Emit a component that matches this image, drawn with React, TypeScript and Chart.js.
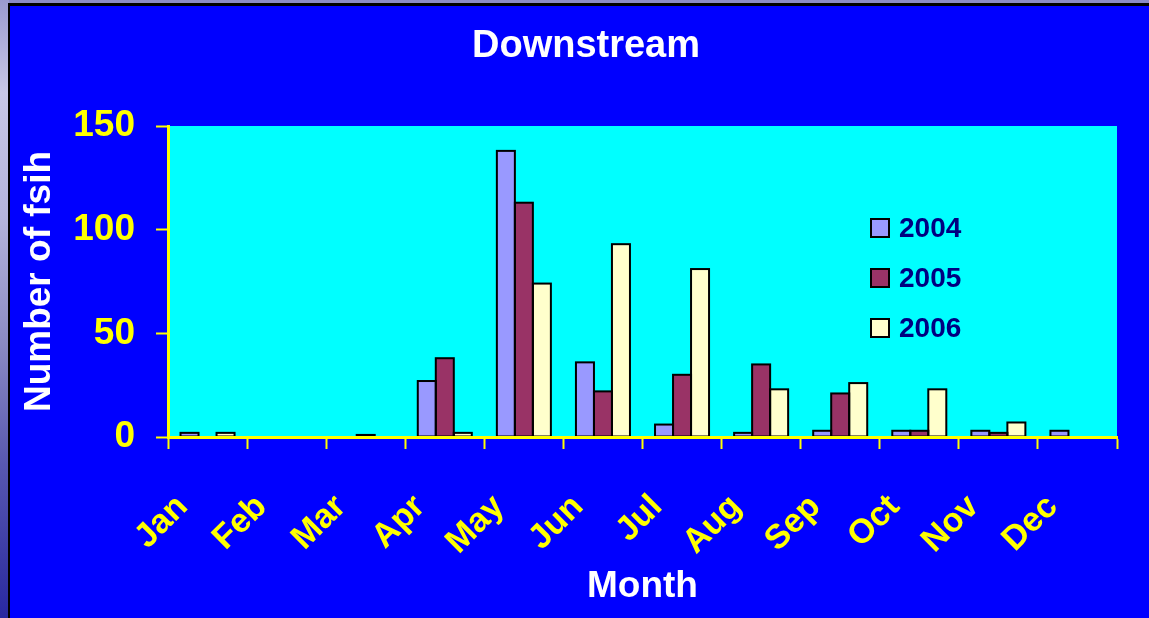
import { useEffect, useRef } from 'react';
import { Chart, registerables } from 'chart.js';

Chart.register(...registerables);

const TITLE = 'Downstream';
const X_TITLE = 'Month';
const Y_TITLE = 'Number of fsih';
const MONTHS = ['Jan', 'Feb', 'Mar', 'Apr', 'May', 'Jun', 'Jul', 'Aug', 'Sep', 'Oct', 'Nov', 'Dec'];
const SERIES_NAMES = ['2004', '2005', '2006'];
const VALUES_2004 = [2, 0, 0, 27, 138, 36, 6, 2, 3, 3, 3, 3];
const VALUES_2005 = [0, 0, 1, 38, 113, 22, 30, 35, 21, 3, 2, 0];
const VALUES_2006 = [2, 0, 0, 2, 74, 93, 81, 23, 26, 23, 7, 0];
const Y_MIN = 0;
const Y_MAX = 150;
const Y_STEP = 50;

const COLORS = ['#9999FF', '#993366', '#FFFFCC'];
const FONT = "'Liberation Sans', Arial, Helvetica, sans-serif";
const YELLOW = '#FFFF00';

const slidePlugin = {
  id: 'slideDecor',
  beforeDraw(chart: any) {
    const { ctx, width, height, chartArea } = chart;
    ctx.save();
    ctx.fillStyle = '#8A8AC6';
    ctx.fillRect(0, 0, width, height);
    const g = ctx.createLinearGradient(0, 0, 0, height);
    g.addColorStop(0, '#9A9AD0');
    g.addColorStop(0.15, '#C8C8E6');
    g.addColorStop(0.35, '#B4B4DC');
    g.addColorStop(0.55, '#8C8CC4');
    g.addColorStop(0.75, '#5858B0');
    g.addColorStop(1, '#2828A0');
    ctx.fillStyle = g;
    ctx.fillRect(0, 0, 9, height);
    ctx.fillStyle = '#000000';
    ctx.fillRect(8, 3, width - 8, height - 3);
    ctx.fillStyle = '#0000FF';
    ctx.fillRect(10, 6, width - 10, height - 6);
    ctx.fillStyle = '#00FFFF';
    ctx.fillRect(chartArea.left, chartArea.top, chartArea.right - chartArea.left, chartArea.bottom - chartArea.top);
    ctx.restore();
  },
  afterDatasetsDraw(chart: any) {
    // Excel-style centred outline around every non-zero bar
    const { ctx } = chart;
    ctx.save();
    ctx.strokeStyle = '#000000';
    ctx.lineWidth = 2;
    chart.data.datasets.forEach((ds: any, di: number) => {
      const meta = chart.getDatasetMeta(di);
      meta.data.forEach((bar: any, i: number) => {
        const v = ds.data[i];
        if (!v) return;
        const { x, y, base, width } = bar.getProps(['x', 'y', 'base', 'width'], true);
        ctx.strokeRect(x - width / 2, y, width, base - y);
      });
    });
    ctx.restore();
  },
  afterDraw(chart: any) {
    const { ctx } = chart;
    ctx.save();
    ctx.fillStyle = '#FFFFFF';
    ctx.font = `bold 38px ${FONT}`;
    ctx.textAlign = 'center';
    ctx.textBaseline = 'alphabetic';
    ctx.fillText(TITLE, 586, 57);

    // legend inside plot area
    const datasets = chart.data.datasets;
    const boxX = 871;
    const firstY = 228;
    const rowGap = 50;
    ctx.font = `bold 28px ${FONT}`;
    ctx.textAlign = 'left';
    ctx.textBaseline = 'middle';
    datasets.forEach((ds: any, i: number) => {
      const cy = firstY + i * rowGap;
      ctx.fillStyle = ds.backgroundColor;
      ctx.fillRect(boxX, cy - 9, 18, 18);
      ctx.strokeStyle = '#000000';
      ctx.lineWidth = 2;
      ctx.strokeRect(boxX, cy - 9, 18, 18);
      ctx.fillStyle = '#000080';
      ctx.fillText(ds.label, 899, cy + 1);
    });
    ctx.restore();
  },
};

export default function App() {
  const canvasRef = useRef<HTMLCanvasElement | null>(null);

  useEffect(() => {
    const canvas = canvasRef.current;
    if (!canvas) return;
    const seriesValues = [VALUES_2004, VALUES_2005, VALUES_2006];
    const chart = new Chart(canvas, {
      type: 'bar',
      data: {
        labels: MONTHS,
        datasets: SERIES_NAMES.map((name, i) => ({
          label: name,
          data: seriesValues[i],
          backgroundColor: COLORS[i],
          borderWidth: 0,
          categoryPercentage: 0.683,
          barPercentage: 1,
        })),
      },
      options: {
        responsive: false,
        animation: false,
        devicePixelRatio: 1,
        events: [],
        layout: { padding: { top: 126, right: 32, bottom: 0, left: 0 } },
        plugins: {
          legend: { display: false },
          title: { display: false },
          tooltip: { enabled: false },
        },
        scales: {
          x: {
            type: 'category',
            grid: {
              offset: true,
              drawOnChartArea: false,
              drawTicks: true,
              tickLength: 12,
              tickWidth: 2,
              tickColor: YELLOW,
              color: YELLOW,
            },
            border: { display: true, color: YELLOW, width: 3, z: 1 },
            ticks: {
              color: YELLOW,
              font: { family: FONT, size: 34, weight: 'bold' },
              minRotation: 45,
              maxRotation: 45,
              autoSkip: false,
              padding: 38,
              labelOffset: -25,
            },
            title: {
              display: true,
              text: X_TITLE,
              color: '#FFFFFF',
              font: { family: FONT, size: 37, weight: 'bold' },
              padding: { top: 0, bottom: 9 },
            },
            afterFit: (scale: any) => {
              scale.height = 181;
            },
          },
          y: {
            min: Y_MIN,
            max: Y_MAX,
            grid: {
              drawOnChartArea: false,
              drawTicks: true,
              tickLength: 12,
              tickWidth: 2,
              tickColor: YELLOW,
              color: YELLOW,
            },
            border: { display: true, color: YELLOW, width: 3, z: 1 },
            ticks: {
              stepSize: Y_STEP,
              color: YELLOW,
              font: { family: FONT, size: 37, weight: 'bold' },
              padding: 21,
            },
            title: {
              display: true,
              text: Y_TITLE,
              color: '#FFFFFF',
              font: { family: FONT, size: 37, weight: 'bold' },
              padding: { top: 18, bottom: 0 },
            },
            afterFit: (scale: any) => {
              scale.width = 168;
            },
          },
        },
      },
      plugins: [slidePlugin],
    });
    return () => chart.destroy();
  }, []);

  return (
    <div style={{ position: 'fixed', left: 0, top: 0, width: 1149, height: 618, overflow: 'hidden' }}>
      <canvas ref={canvasRef} width={1149} height={618} style={{ display: 'block', width: 1149, height: 618 }} />
    </div>
  );
}
